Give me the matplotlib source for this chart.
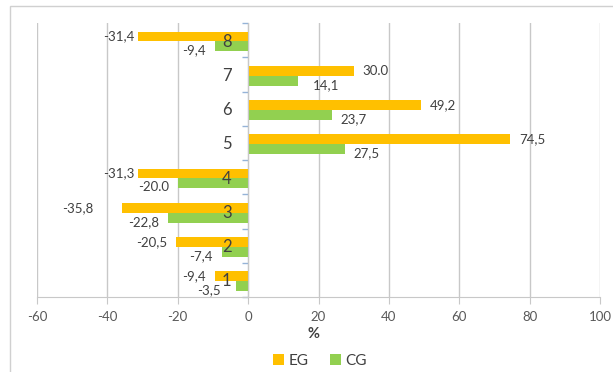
import matplotlib
matplotlib.use("Agg")
import matplotlib.pyplot as plt
from matplotlib.patches import Rectangle
import numpy as np

# ---- data ----
categories = ["1", "2", "3", "4", "5", "6", "7", "8"]
eg_values = [-9.4, -20.5, -35.8, -31.3, 74.5, 49.2, 30.0, -31.4]
cg_values = [-3.5, -7.4, -22.8, -20.0, 27.5, 23.7, 14.1, -9.4]
eg_labels = ["-9,4", "-20,5", "-35,8", "-31,3", "74,5", "49,2", "30.0", "-31,4"]
cg_labels = ["-3,5", "-7,4", "-22,8", "-20.0", "27,5", "23,7", "14,1", "-9,4"]
series_names = ["EG", "CG"]
x_ticks = [-60, -40, -20, 0, 20, 40, 60, 80, 100]
x_title = "%"

EG_COLOR = "#FFC000"
CG_COLOR = "#92D050"
GRID = "#C8C8C8"
TXT = "#404040"

plt.rcParams['font.family'] = ['Lato', 'DejaVu Sans']

W, H = 613, 372
fig = plt.figure(figsize=(W / 100, H / 100), dpi=100)

# chart border
fig.add_artist(Rectangle((10 / W, -0.1), 2.0, (H - 6) / H + 0.1,
                         transform=fig.transFigure, fill=False,
                         edgecolor="#D0D0D0", linewidth=1.0, clip_on=False))

ax = fig.add_axes([37 / W, (H - 297) / H, (600 - 37) / W, (297 - 23) / H])

y = np.arange(1, len(categories) + 1)
bh = 0.29
shift = -0.04

for xv in x_ticks:
    ax.axvline(xv, color=GRID, linewidth=1.0, zorder=0)

ax.barh(y + shift + bh / 2, eg_values, height=bh, color=EG_COLOR, zorder=1, label=series_names[0])
ax.barh(y + shift - bh / 2, cg_values, height=bh, color=CG_COLOR, zorder=1, label=series_names[1])

# data labels
nudge_eg = {2: 20, 3: -6, 7: -6}
nudge_cg = {0: 6, 6: 6}
for i, (v, s) in enumerate(zip(eg_values, eg_labels)):
    off = 9 + nudge_eg.get(i, 0)
    ax.annotate(s, xy=(v, y[i] + shift + bh / 2), xytext=(off if v >= 0 else -off, 0),
                textcoords="offset pixels", ha="left" if v >= 0 else "right",
                va="center", fontsize=9.5, color=TXT, zorder=3)
for i, (v, s) in enumerate(zip(cg_values, cg_labels)):
    off = 9 + nudge_cg.get(i, 0)
    ax.annotate(s, xy=(v, y[i] + shift - bh / 2), xytext=(off if v >= 0 else -off, -4),
                textcoords="offset pixels", ha="left" if v >= 0 else "right",
                va="center", fontsize=9.5, color=TXT, zorder=3)

ax.set_xlim(-60, 100)
ax.set_ylim(0.5, len(categories) + 0.5)
ax.set_xticks(x_ticks)
ax.set_xticklabels([str(t) for t in x_ticks])
ax.tick_params(axis="x", length=5, color=GRID, labelcolor="#595959", labelsize=9.5, pad=5)

ax.spines["top"].set_visible(False)
ax.spines["right"].set_visible(False)
ax.spines["bottom"].set_color(GRID)
ax.spines["left"].set_position(("data", 0))
ax.spines["left"].set_color(GRID)

ax.set_yticks(y)
ax.set_yticklabels(categories)
ax.set_yticks(np.arange(0.5, len(categories) + 0.6, 1), minor=True)
ax.tick_params(axis="y", which="major", length=0, pad=12, labelsize=12, labelcolor=TXT)
ax.tick_params(axis="y", which="minor", length=4, color="#95B3D7", width=1)
for lbl in ax.get_yticklabels():
    lbl.set_zorder(4)

fig.text(314 / W, 1 - 334 / H, x_title, ha="center", va="center",
         fontsize=10.5, fontweight="bold", color=TXT)

fig.legend(loc="center", bbox_to_anchor=(320 / W, 1 - 361 / H), ncol=2, frameon=False,
           handlelength=0.7, handleheight=0.7, handletextpad=0.3, columnspacing=1.4,
           fontsize=11, labelcolor=TXT)

fig.savefig("out.png", dpi=100)
